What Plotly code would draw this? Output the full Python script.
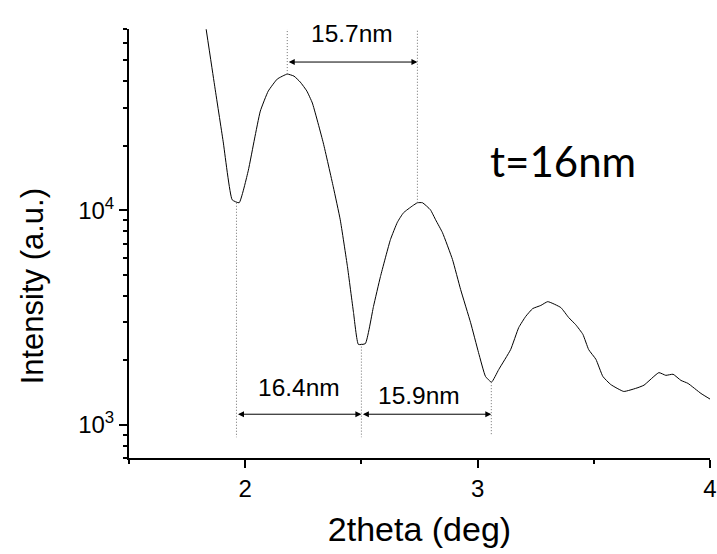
import numpy as np
import plotly.graph_objects as go

# ---- data ----
two_theta = [1.832, 1.868, 1.905, 1.944, 1.974, 2.013, 2.040, 2.065, 2.099, 2.138, 2.181,
             2.210, 2.237, 2.265, 2.289, 2.336, 2.379, 2.409, 2.440, 2.466, 2.487, 2.517, 2.552,
             2.582, 2.625, 2.655, 2.681, 2.720, 2.741, 2.763, 2.797, 2.820, 2.849, 2.892, 2.927,
             2.970, 3.004, 3.034, 3.060, 3.091, 3.142, 3.177, 3.207, 3.237, 3.272,
             3.302, 3.358, 3.392, 3.422, 3.453, 3.478, 3.509, 3.539, 3.573, 3.629,
             3.690, 3.716, 3.780, 3.810, 3.841, 3.875, 3.905, 3.961, 4.004]
intensity = [69800, 38400, 21000, 11190, 10840, 15270, 21500, 29000, 35930, 40900, 43150,
             42200, 39600, 36000, 31620, 20600, 12860, 9030, 5460, 3340, 2370, 2390, 3560,
             4910, 7300, 8800, 9730, 10490, 10840, 10840, 10050, 9000, 7860, 5890, 4270,
             2990, 2170, 1680, 1580, 1810, 2240, 2840, 3200, 3480, 3600,
             3750, 3520, 3160, 2930, 2640, 2240, 2020, 1680, 1540, 1430,
             1490, 1530, 1750, 1700, 1720, 1610, 1560, 1400, 1310]

# dotted guide lines (x, from, to)
guide_x = [2.181, 2.741, 1.9625, 2.5, 3.059]
guide_y0 = [43150, 10840, 10840, 2390, 1580]
guide_y1 = [90000, 90000, 875, 875, 890]

# double arrows showing fringe spacing
arrow_x0 = [2.181, 1.9625, 2.5]
arrow_x1 = [2.741, 2.5, 3.059]
arrow_y = [49100, 1120, 1120]
arrow_labels = ["15.7nm", "16.4nm", "15.9nm"]
label_x = [2.461, 2.2306, 2.746]
label_y = [66400, 1490, 1375]

note_text = "t=16nm"
note_x, note_y = 3.366, 17000

y_tickvals = [1000, 10000]
y_ticktext = ["10<sup>3</sup>", "10<sup>4</sup>"]

x_title = "2theta (deg)"
y_title = "Intensity (a.u.)"

fig = go.Figure()
fig.add_trace(go.Scatter(x=two_theta, y=intensity, mode="lines",
                         line=dict(color="black", width=1, shape="spline", smoothing=0.4),
                         showlegend=False))

for gx, a, b in zip(guide_x, guide_y0, guide_y1):
    fig.add_shape(type="line", xref="x", yref="y", x0=gx, x1=gx, y0=a, y1=b,
                  line=dict(color="#707070", width=1, dash="1px,2px"))

for xa, xb, yv in zip(arrow_x0, arrow_x1, arrow_y):
    ly = float(np.log10(yv))
    fig.add_annotation(x=xb, y=ly, ax=xa, ay=ly, xref="x", yref="y",
                       axref="x", ayref="y", text="", showarrow=True,
                       arrowhead=2, arrowside="end+start", arrowsize=1.2,
                       arrowwidth=1, arrowcolor="black")

for t, lx, lyv in zip(arrow_labels, label_x, label_y):
    fig.add_annotation(x=lx, y=float(np.log10(lyv)), xref="x", yref="y",
                       text=t, showarrow=False,
                       font=dict(family="Liberation Sans", size=24.5, color="black"))

fig.add_annotation(x=note_x, y=float(np.log10(note_y)), xref="x", yref="y",
                   text=note_text, showarrow=False,
                   font=dict(family="Lato", size=42, color="black"))

# y-axis title (placed as in the reference, slightly below the axis centre)
fig.add_annotation(xref="paper", yref="paper", x=-0.167, y=0.40,
                   xanchor="center", yanchor="middle", textangle=-90,
                   text=y_title, showarrow=False,
                   font=dict(family="Liberation Sans", size=31, color="black"))

axis_common = dict(showline=True, linecolor="black", linewidth=2,
                   ticks="outside", tickcolor="black", tickwidth=1.5,
                   showgrid=False, zeroline=False, mirror=False,
                   tickfont=dict(family="Liberation Sans", size=24, color="black"))

fig.update_xaxes(range=[1.5, 4], dtick=1, tick0=0, ticklen=8,
                 minor=dict(ticks="outside", dtick=0.5, ticklen=4,
                            tickwidth=1.5, tickcolor="black", showgrid=False),
                 title=dict(text=x_title, standoff=16,
                            font=dict(family="Liberation Sans", size=34, color="black")),
                 automargin=False, **axis_common)
fig.update_yaxes(type="log", range=[np.log10(700), np.log10(70000)],
                 tickmode="array", tickvals=y_tickvals, ticktext=y_ticktext, ticklen=8,
                 minor=dict(ticks="outside", dtick="D1", ticklen=4,
                            tickwidth=1.5, tickcolor="black", showgrid=False),
                 automargin=False, **axis_common)

fig.update_layout(width=717, height=554,
                  margin=dict(l=129, r=7, t=29, b=96),
                  paper_bgcolor="white", plot_bgcolor="white")

fig.write_html("out.html")
